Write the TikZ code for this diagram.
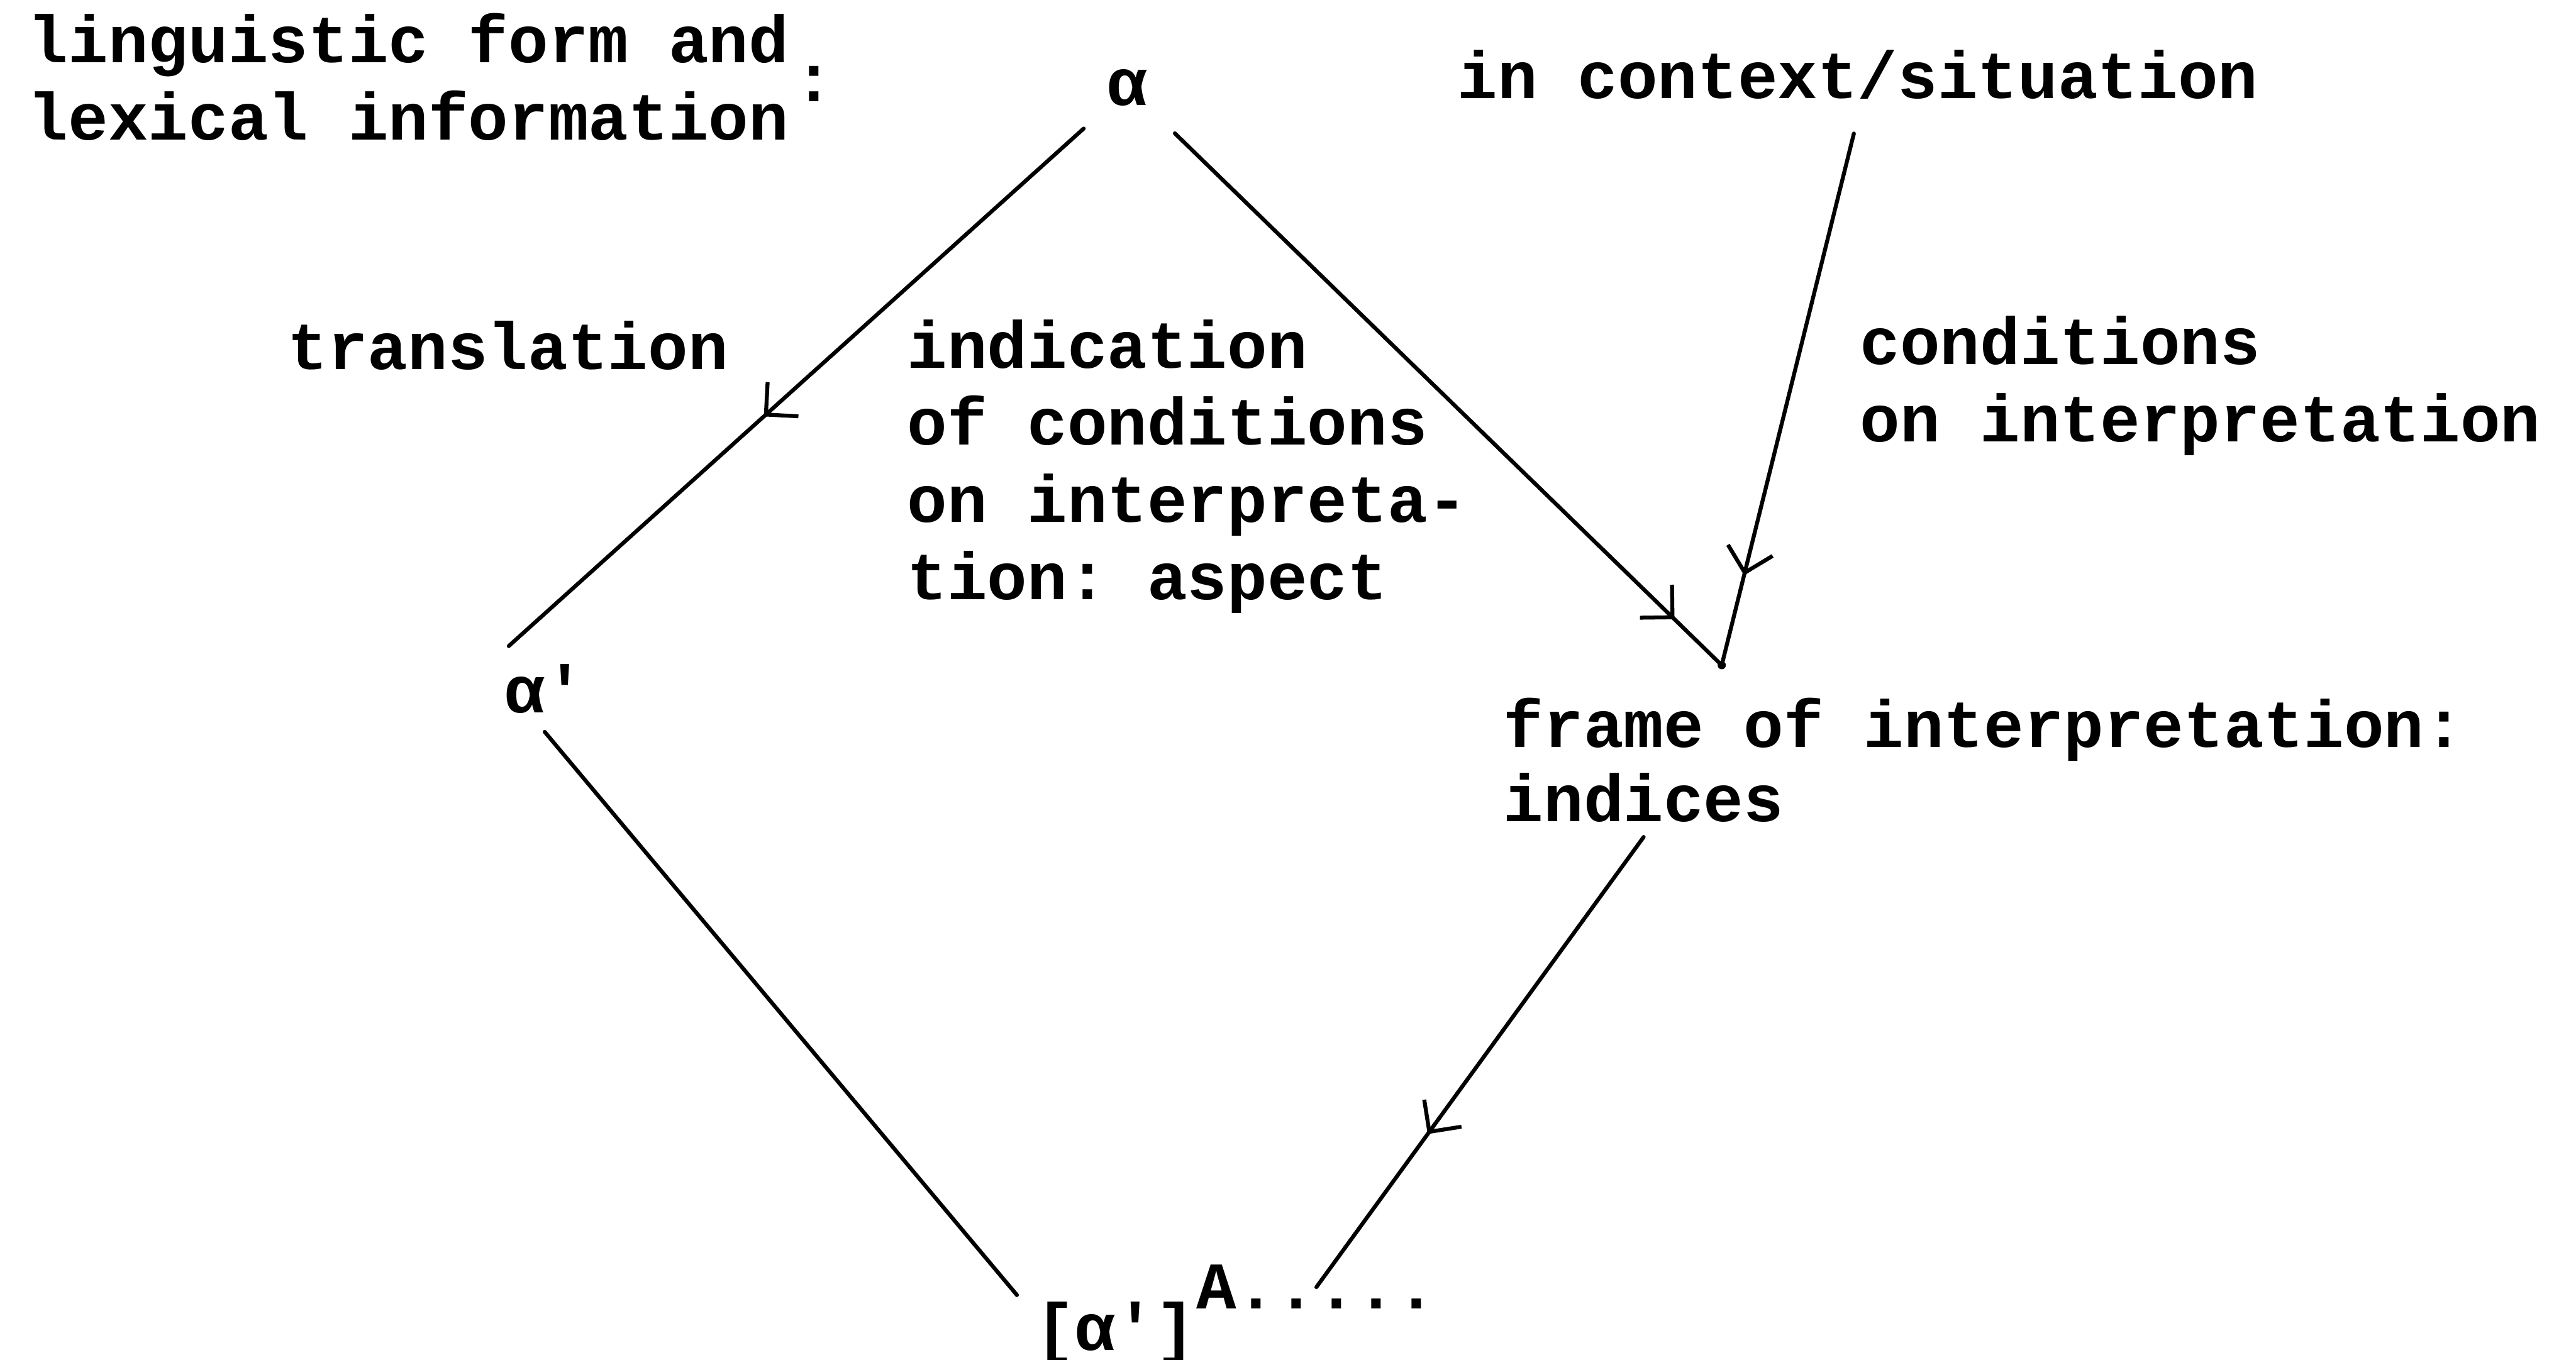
\documentclass[tikz,border=0pt]{standalone}
\usepackage{fontspec}
\setmonofont{Liberation Mono}
\usetikzlibrary{arrows.meta,decorations.markings}

\tikzset{every picture/.style={line width=1.2pt}}
\tikzset{
	typed/.style={font=\ttfamily\bfseries\fontsize{20.3}{23.5}\selectfont, inner sep=0pt, align=left},
	midarrow/.style={postaction={decorate}, decoration={markings, mark=at position #1 with {\arrow{Straight Barb[length=7pt,width=14pt,line width=1.2pt]}}}}
}

\begin{document}
\begin{tikzpicture}[x=0.5pt,y=0.5pt,yscale=-1,xscale=1,line cap=round]
	\useasboundingbox (0,0) rectangle (1568,828);
	
	%Text Nodes
	\node [typed, anchor=base west] (ling) at (16,85) {linguistic form and\\lexical information};
	\node [typed, anchor=base west] (colon) at (482,62) {:};
	\node [typed, anchor=base, inner sep=5pt] (alpha) at (686,64) {α};
	\node [typed, anchor=base west, inner sep=5pt] (ctx) at (876,60) {in context/situation};
	\node [typed, anchor=base west] (transl) at (174,225) {translation};
	\node [typed, anchor=base west] (indic) at (551,365) {indication\\of conditions\\on interpreta-\\tion: aspect};
	\node [typed, anchor=base west] (cond) at (1131,269) {conditions\\on interpretation};
	\node [typed, anchor=base west, inner sep=5pt] (alphap) at (296,434) {α'};
	\node [typed, anchor=base west] (frame) at (914,455) {frame of interpretation:};
	\node [typed, anchor=base west, inner sep=4pt] (indices) at (906,500) {indices};
	\node [typed, anchor=base west, inner sep=5pt] (result) at (619,822) {[α']};
	\node [typed, anchor=base west] (sup) at (727,797) {A.....};
	
	%Junction
	\coordinate (J) at (1048,405);
	\fill (J) circle (2.5);
	
	%Straight Lines
	\draw [midarrow=0.56, shorten <=2pt] (alpha.south west) -- (alphap.130);
	%Straight Lines
	\draw [midarrow=0.915, shorten <=4pt] (alpha.south east) -- (J);
	%Straight Lines
	\draw [midarrow=0.836, shorten <=5pt] (ctx.south) -- (J);
	%Straight Lines
	\draw (alphap.south) -- (result.159);
	%Straight Lines
	\draw [midarrow=0.66] (indices.south) -- (sup.center);
	
\end{tikzpicture}
\end{document}
